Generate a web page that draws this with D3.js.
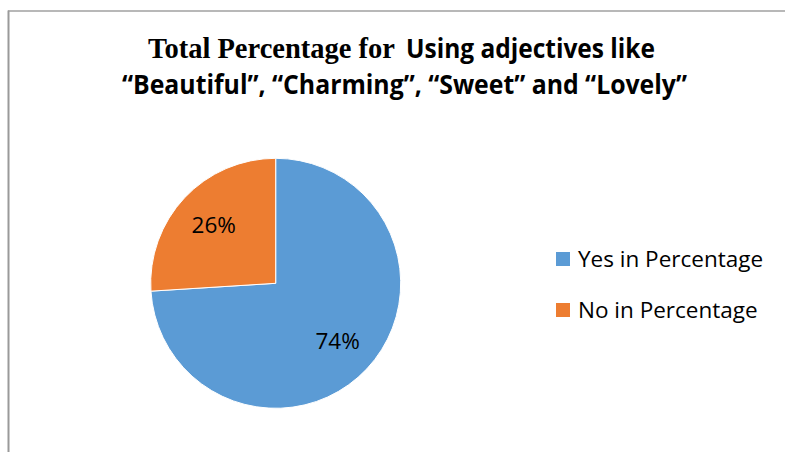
<!DOCTYPE html>
<html>
<head>
<meta charset="utf-8">
<script src="https://cdn.jsdelivr.net/npm/d3@7"></script>
<style>
  html, body { margin: 0; padding: 0; background: #fff; }
  svg { display: block; }
</style>
</head>
<body>
<svg id="chart" width="785" height="452"></svg>
<script>
// Survey result: share of respondents using the adjectives
const categories = ["Yes in Percentage", "No in Percentage"];
const values = [74, 26];
const valueLabels = ["74%", "26%"];
const colors = ["#5B9BD5", "#ED7D31"];

const titleLine1Serif = "Total Percentage for";
const titleLine1Sans = "Using adjectives like";
const titleLine2 = "\u201CBeautiful\u201D, \u201CCharming\u201D, \u201CSweet\u201D and \u201CLovely\u201D";

const W = 785, H = 452;
const svg = d3.select("#chart");

// frame edges
svg.append("line").attr("x1", 8).attr("x2", W).attr("y1", 11).attr("y2", 11)
  .attr("stroke", "#a0a0a0").attr("stroke-width", 1.5);
svg.append("line").attr("x1", 8.5).attr("x2", 8.5).attr("y1", 10.5).attr("y2", H)
  .attr("stroke", "#9a9a9a").attr("stroke-width", 2);

// title
const title = svg.append("g").attr("fill", "#000");
title.append("text")
  .attr("x", 148).attr("y", 58)
  .attr("font-family", "'Liberation Serif', 'Times New Roman', serif")
  .attr("font-weight", "bold").attr("font-size", 29)
  .attr("textLength", 247).attr("lengthAdjust", "spacingAndGlyphs")
  .text(titleLine1Serif);
title.append("text")
  .attr("x", 406).attr("y", 58)
  .attr("font-family", "'Open Sans', sans-serif")
  .attr("font-weight", "bold").attr("font-size", 26.5)
  .attr("textLength", 249).attr("lengthAdjust", "spacingAndGlyphs")
  .text(titleLine1Sans);
title.append("text")
  .attr("x", 122).attr("y", 94)
  .attr("font-family", "'Open Sans', sans-serif")
  .attr("font-weight", "bold").attr("font-size", 26.5)
  .attr("textLength", 565).attr("lengthAdjust", "spacingAndGlyphs")
  .text(titleLine2);

// pie
const cx = 275.7, cy = 283.3, r = 125;
const pie = d3.pie().sort(null).value(d => d)(values);
const arc = d3.arc().innerRadius(0).outerRadius(r);
const labelArc = d3.arc().innerRadius(r * 0.68).outerRadius(r * 0.68);

const g = svg.append("g").attr("transform", `translate(${cx},${cy})`);
g.selectAll("path.slice").data(pie).join("path")
  .attr("class", "slice")
  .attr("d", arc)
  .attr("fill", (d, i) => colors[i])
  .attr("stroke", "#fff").attr("stroke-width", 1);

g.selectAll("text.val").data(pie).join("text")
  .attr("class", "val")
  .attr("transform", d => `translate(${labelArc.centroid(d)})`)
  .attr("text-anchor", "middle").attr("dy", "0.35em")
  .attr("font-family", "'Open Sans', sans-serif").attr("font-size", 22.5)
  .attr("fill", "#000")
  .text((d, i) => valueLabels[i]);

// legend
const legend = svg.append("g");
const rows = legend.selectAll("g").data(categories).join("g")
  .attr("transform", (d, i) => `translate(556,${252 + i * 51})`);
rows.append("rect").attr("width", 14).attr("height", 14)
  .attr("fill", (d, i) => colors[i]);
rows.append("text").attr("x", 22).attr("y", 15)
  .attr("font-family", "'Open Sans', sans-serif").attr("font-size", 22.5)
  .attr("fill", "#000")
  .text(d => d);
</script>
</body>
</html>
